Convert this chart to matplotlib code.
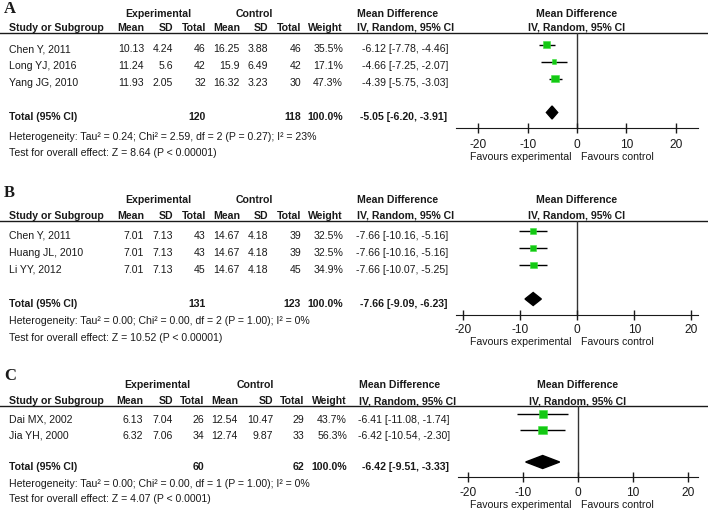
import numpy as np
import matplotlib; matplotlib.use("Agg")
import matplotlib.pyplot as plt
from matplotlib import font_manager

W, H = 708, 512
names = {f.name for f in font_manager.fontManager.ttflist}
if "Liberation Sans Narrow" in names:
    FAM, FS = "Liberation Sans Narrow", 9.5
else:
    FAM, FS = "Liberation Sans", 7.6
plt.rcParams["font.family"] = [FAM, "DejaVu Sans"]
plt.rcParams["axes.unicode_minus"] = False
TXT = "#1a1a1a"; GREEN = "#14c814"

# ---------- data ----------
studies_a = ["Chen Y, 2011", "Long YJ, 2016", "Yang JG, 2010"]
exp_mean_a = [10.13, 11.24, 11.93]; exp_sd_a = [4.24, 5.6, 2.05]; exp_n_a = [46, 42, 32]
ctl_mean_a = [16.25, 15.9, 16.32]; ctl_sd_a = [3.88, 6.49, 3.23]; ctl_n_a = [46, 42, 30]
weight_a = [35.5, 17.1, 47.3]
md_a = [-6.12, -4.66, -4.39]; lo_a = [-7.78, -7.25, -5.75]; hi_a = [-4.46, -2.07, -3.03]
total_a = [120, 118, 100.0, -5.05, -6.20, -3.91]   # n_exp, n_ctl, weight, md, lo, hi
het_a = "Heterogeneity: Tau² = 0.24; Chi² = 2.59, df = 2 (P = 0.27); I² = 23%"
test_a = "Test for overall effect: Z = 8.64 (P < 0.00001)"

studies_b = ["Chen Y, 2011", "Huang JL, 2010", "Li YY, 2012"]
exp_mean_b = [7.01, 7.01, 7.01]; exp_sd_b = [7.13, 7.13, 7.13]; exp_n_b = [43, 43, 45]
ctl_mean_b = [14.67, 14.67, 14.67]; ctl_sd_b = [4.18, 4.18, 4.18]; ctl_n_b = [39, 39, 45]
weight_b = [32.5, 32.5, 34.9]
md_b = [-7.66, -7.66, -7.66]; lo_b = [-10.16, -10.16, -10.07]; hi_b = [-5.16, -5.16, -5.25]
total_b = [131, 123, 100.0, -7.66, -9.09, -6.23]
het_b = "Heterogeneity: Tau² = 0.00; Chi² = 0.00, df = 2 (P = 1.00); I² = 0%"
test_b = "Test for overall effect: Z = 10.52 (P < 0.00001)"

studies_c = ["Dai MX, 2002", "Jia YH, 2000"]
exp_mean_c = [6.13, 6.32]; exp_sd_c = [7.04, 7.06]; exp_n_c = [26, 34]
ctl_mean_c = [12.54, 12.74]; ctl_sd_c = [10.47, 9.87]; ctl_n_c = [29, 33]
weight_c = [43.7, 56.3]
md_c = [-6.41, -6.42]; lo_c = [-11.08, -10.54]; hi_c = [-1.74, -2.30]
total_c = [60, 62, 100.0, -6.42, -9.51, -3.33]
het_c = "Heterogeneity: Tau² = 0.00; Chi² = 0.00, df = 1 (P = 1.00); I² = 0%"
test_c = "Test for overall effect: Z = 4.07 (P < 0.0001)"

ticks = [-20, -10, 0, 10, 20]

# ---------- layout (pixels) ----------
cols_ab = [144, 173, 206, 240, 268, 301, 343, 448]
cols_c = [143, 173, 204, 238, 273, 304, 347, 450]
layouts = [
    dict(letter="A", y_let=13, y_grp=17, y_hdr=31, rule=33, rows=[52, 69, 86], y_tot=120, y_het=140, y_test=156,
         top=33, bot=128, r0=44.5, sp=17, itot=4, x0=577, xl=24.5, y_fav=160, pad=4.5, cols=cols_ab,
         grp=(158, 254), md_left=357),
    dict(letter="B", y_let=197, y_grp=203, y_hdr=219, rule=221, rows=[239, 256, 273], y_tot=307, y_het=324, y_test=341,
         top=221, bot=315, r0=231, sp=17, itot=4, x0=577, xl=21.15, y_fav=345, pad=3, cols=cols_ab,
         grp=(158, 254), md_left=357),
    dict(letter="C", y_let=380, y_grp=388, y_hdr=404, rule=406, rows=[423, 439], y_tot=470, y_het=487, y_test=502,
         top=406, bot=477, r0=414, sp=16, itot=3, x0=578, xl=21.8, y_fav=508, pad=3.5, cols=cols_c,
         grp=(157, 255), md_left=359),
]
panels = [
    (studies_a, exp_mean_a, exp_sd_a, exp_n_a, ctl_mean_a, ctl_sd_a, ctl_n_a, weight_a, md_a, lo_a, hi_a, total_a, het_a, test_a),
    (studies_b, exp_mean_b, exp_sd_b, exp_n_b, ctl_mean_b, ctl_sd_b, ctl_n_b, weight_b, md_b, lo_b, hi_b, total_b, het_b, test_b),
    (studies_c, exp_mean_c, exp_sd_c, exp_n_c, ctl_mean_c, ctl_sd_c, ctl_n_c, weight_c, md_c, lo_c, hi_c, total_c, het_c, test_c),
]

fig = plt.figure(figsize=(W / 100, H / 100), dpi=100)
bg = fig.add_axes([0, 0, 1, 1]); bg.set_xlim(0, W); bg.set_ylim(H, 0); bg.axis("off")


def t(x, y, s, ha="left", bold=False, **kw):
    bg.text(x, y, s, ha=ha, va="baseline", fontsize=FS, color=TXT, fontweight="bold" if bold else "normal", **kw)


for L, (st, em, es, en, cm, cs, cn, w, md, lo, hi, tot, het, test) in zip(layouts, panels):
    c = L["cols"]
    bg.text(4, L["y_let"], L["letter"], fontsize=12, fontweight="bold", family="Liberation Serif", color=TXT, va="baseline")
    t(L["grp"][0], L["y_grp"], "Experimental", ha="center", bold=True)
    t(L["grp"][1], L["y_grp"], "Control", ha="center", bold=True)
    t(L["md_left"], L["y_grp"], "Mean Difference", bold=True)
    t(L["x0"], L["y_grp"], "Mean Difference", ha="center", bold=True)
    t(9, L["y_hdr"], "Study or Subgroup", bold=True)
    for x, s in zip(c[:7], ["Mean", "SD", "Total", "Mean", "SD", "Total", "Weight"]):
        t(x, L["y_hdr"], s, ha="right", bold=True)
    t(L["md_left"], L["y_hdr"], "IV, Random, 95% CI", bold=True)
    t(L["x0"], L["y_hdr"], "IV, Random, 95% CI", ha="center", bold=True)
    bg.axhline(L["rule"], color=TXT, lw=1)
    for i, y in enumerate(L["rows"]):
        t(9, y, st[i])
        vals = [f"{em[i]:g}", f"{es[i]:g}", f"{en[i]}", f"{cm[i]:g}", f"{cs[i]:g}", f"{cn[i]}", f"{w[i]:.1f}%",
                f"{md[i]:.2f} [{lo[i]:.2f}, {hi[i]:.2f}]"]
        for x, s in zip(c, vals):
            t(x, y, s, ha="right")
    t(9, L["y_tot"], "Total (95% CI)", bold=True)
    t(c[2], L["y_tot"], f"{tot[0]}", ha="right", bold=True)
    t(c[5], L["y_tot"], f"{tot[1]}", ha="right", bold=True)
    t(c[6], L["y_tot"], f"{tot[2]:.1f}%", ha="right", bold=True)
    t(c[7] - 1, L["y_tot"], f"{tot[3]:.2f} [{tot[4]:.2f}, {tot[5]:.2f}]", ha="right", bold=True)
    t(9, L["y_het"], het)
    t(9, L["y_test"], test)

    # forest axes: axis line ends at x=698 px, zero at x0
    ppu = (698 - L["x0"]) / L["xl"]
    left = L["x0"] - L["xl"] * ppu
    ax = fig.add_axes([left / W, 1 - L["bot"] / H, (698 - left) / W, (L["bot"] - L["top"]) / H])
    ax.set_xlim(-L["xl"], L["xl"])
    ax.set_ylim((L["bot"] - L["r0"]) / L["sp"], (L["top"] - L["r0"]) / L["sp"])
    ax.patch.set_alpha(0)
    ys = np.arange(len(md))
    ax.axvline(0, color="#333333", lw=1, zorder=1)
    ax.hlines(ys, lo, hi, color="black", lw=1, zorder=2)
    ax.scatter(md, ys, s=np.array(w) * 0.7, marker="s", color=GREEN, edgecolor="#3ee03e", linewidth=0.4, zorder=3)
    h = 6.5 / L["sp"]; yt = L["itot"]
    ax.fill([tot[4], tot[3], tot[5], tot[3]], [yt, yt - h, yt, yt + h], color="black", zorder=3)
    for s in ["top", "left", "right"]:
        ax.spines[s].set_visible(False)
    ax.spines["bottom"].set_color(TXT)
    ax.set_yticks([])
    ax.set_xticks(ticks)
    ax.tick_params(axis="x", direction="inout", length=7, width=1, colors=TXT, labelsize=FS + 1, pad=L["pad"])
    t(521, L["y_fav"], "Favours experimental", ha="center")
    t(617, L["y_fav"], "Favours control", ha="center")

fig.savefig("out.png", dpi=100)
